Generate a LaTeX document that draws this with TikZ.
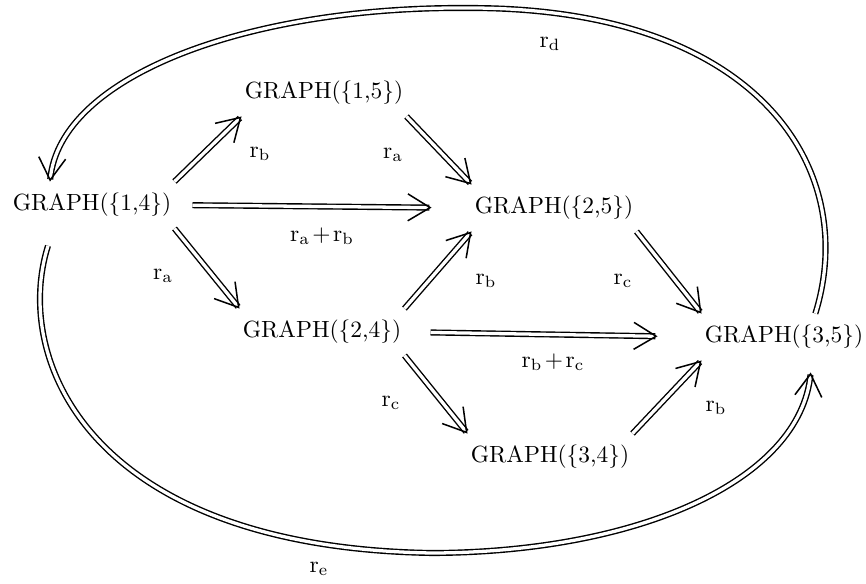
\documentclass[tikz,border=0pt]{standalone}
\usepackage{tikz}
\usetikzlibrary{arrows.meta}
\tikzset{
  % Graph states
  state/.style={
    rectangle, inner sep=0pt, minimum width=2.46cm, minimum height=0.69cm,
    font=\normalsize, align=center,
  },
  % Double arrows
  dblarrow/.style={
    double, double distance=1.4pt, line width=0.6pt,
    -{Straight Barb[length=9.5pt, width=11.5pt, line width=0.65pt]},
  },
  % Rate labels
  ratelabel/.style={font=\normalsize, inner sep=1pt},
}
\newcommand{\rplus}{\mkern2mu{+}\mkern2mu}

\begin{document}
\begin{tikzpicture}[x=0.015cm, y=-0.015cm]
  \useasboundingbox (0,0) rectangle (866,583);

  % States
  \node[state] (g14) at (92,205) {GRAPH(\{1,4\})};
  \node[state] (g15) at (324,93) {GRAPH(\{1,5\})};
  \node[state] (g25) at (554,208) {GRAPH(\{2,5\})};
  \node[state] (g24) at (322,332) {GRAPH(\{2,4\})};
  \node[state] (g35) at (784,337) {GRAPH(\{3,5\})};
  \node[state] (g34) at (550,457) {GRAPH(\{3,4\})};

  % Straight transitions
  \draw[dblarrow] (g14.north east) -- (g15.south west);
  \draw[dblarrow] (g15.south east) -- (g25.north west);
  \draw[dblarrow, shorten <=0.27cm, shorten >=0.6cm] (g14.east) -- (g25.west);
  \draw[dblarrow] (g14.south east) -- (g24.north west);
  \draw[dblarrow] (g24.north east) -- (g25.south west);
  \draw[dblarrow] (g25.south east) -- (g35.north west);
  \draw[dblarrow, shorten <=0.39cm, shorten >=0.66cm] (g24.east) -- (g35.west);
  \draw[dblarrow] (g24.south east) -- (g34.north west);
  \draw[dblarrow] (g34.north east) -- (g35.south west);

  % Curved transitions
  \draw[dblarrow] ([xshift=0.47cm]g35.north)
    .. controls (860,170) and (760,8) .. (470,8)
    .. controls (250,6) and (60,75) .. ([xshift=-0.63cm]g14.north);
  \draw[dblarrow] ([xshift=-0.66cm, yshift=-0.26cm]g14.south)
    .. controls (12,360) and (90,548) .. (433,553)
    .. controls (640,552) and (800,480) .. ([xshift=0.4cm, yshift=-0.18cm]g35.south);

  % Rates
  \node[ratelabel] (lb1) at (260,154) {$\mathrm{r_b}$};
  \node[ratelabel] (lb2) at (393,155) {$\mathrm{r_a}$};
  \node[ratelabel] (lb3) at (322,236) {$\mathrm{r_a\rplus r_b}$};
  \node[ratelabel] (lb4) at (163,276) {$\mathrm{r_a}$};
  \node[ratelabel] (lb5) at (486,281) {$\mathrm{r_b}$};
  \node[ratelabel] (lb6) at (623,281) {$\mathrm{r_c}$};
  \node[ratelabel] (lb7) at (553,362) {$\mathrm{r_b\rplus r_c}$};
  \node[ratelabel] (lb8) at (391,403) {$\mathrm{r_c}$};
  \node[ratelabel] (lb9) at (716,408) {$\mathrm{r_b}$};
  \node[ratelabel] (lbd) at (550,44) {$\mathrm{r_d}$};
  \node[ratelabel] (lbe) at (319,569) {$\mathrm{r_e}$};
\end{tikzpicture}
\end{document}
